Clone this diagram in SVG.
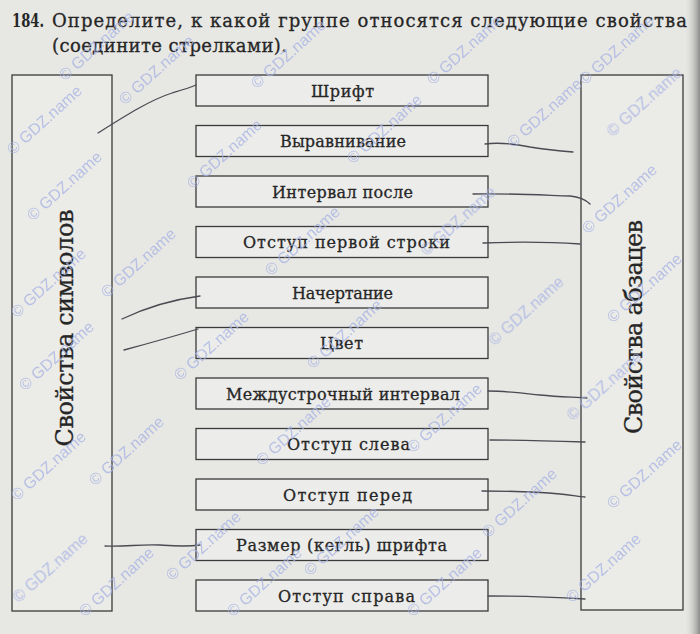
<svg xmlns="http://www.w3.org/2000/svg" width="700" height="634" viewBox="0 0 700 634">
<defs>
<linearGradient id="edge" x1="0" y1="0" x2="1" y2="0">
<stop offset="0" stop-color="#e6e6e3" stop-opacity="0"/>
<stop offset="1" stop-color="#8a8a88"/>
</linearGradient>
<style>
.bg{fill:#e7e7e4}
.box{fill:#ececea;stroke:#3a3a3a;stroke-width:1.3}
.big{fill:#ebebe8;stroke:#3a3a3a;stroke-width:1.3}
.lbl{font-family:"DejaVu Serif","Liberation Serif",serif;font-size:16px;fill:#262626;stroke:#262626;stroke-width:0.3}
.ttl{font-family:"DejaVu Serif","Liberation Serif",serif;font-size:18px;fill:#262626;stroke:#262626;stroke-width:0.3}
.num{font-family:"DejaVu Serif","Liberation Serif",serif;font-size:18px;font-weight:bold;fill:#262626}
.rot{font-family:"DejaVu Serif","Liberation Serif",serif;font-size:24px;fill:#262626;stroke:#262626;stroke-width:0.3}
.con{fill:none;stroke:#4a4a52;stroke-width:1.3;stroke-linecap:round;stroke-linejoin:round}
.wm{font-family:"Liberation Sans",Arial,sans-serif;font-size:16px;fill:#a6b2e3;opacity:0.75}
</style>
</defs>
<rect class="bg" x="0" y="0" width="700" height="634"/>
<rect x="684" y="0" width="16" height="634" fill="url(#edge)"/>

<g id="title">
<text class="num" x="12" y="27" textLength="32" lengthAdjust="spacingAndGlyphs">184.</text>
<text class="ttl" x="52" y="27" textLength="635" lengthAdjust="spacing">Определите, к какой группе относятся следующие свойства</text>
<text class="ttl" x="52" y="52" textLength="235" lengthAdjust="spacing">(соедините стрелками).</text>
</g>

<g id="group-symbols">
<rect class="big" x="12" y="75" width="100" height="536"/>
<text class="rot" transform="translate(73,328) rotate(-90)" text-anchor="middle" textLength="237" lengthAdjust="spacing">Свойства символов</text>
</g>

<g id="group-paragraphs">
<rect class="big" x="581" y="75" width="102" height="535"/>
<text class="rot" transform="translate(642,327) rotate(-90)" text-anchor="middle" textLength="214" lengthAdjust="spacing">Свойства абзацев</text>
</g>

<g id="n1"><rect class="box" x="196" y="75" width="292" height="31"/><text class="lbl" x="311" y="96.5" textLength="63" lengthAdjust="spacing">Шрифт</text></g>
<g id="n2"><rect class="box" x="196" y="125.5" width="292" height="31"/><text class="lbl" x="280" y="147" textLength="126" lengthAdjust="spacing">Выравнивание</text></g>
<g id="n3"><rect class="box" x="196" y="176" width="292" height="31"/><text class="lbl" x="272" y="197.5" textLength="141" lengthAdjust="spacing">Интервал после</text></g>
<g id="n4"><rect class="box" x="196" y="226.5" width="292" height="31"/><text class="lbl" x="243" y="248" textLength="207" lengthAdjust="spacing">Отступ первой строки</text></g>
<g id="n5"><rect class="box" x="196" y="277" width="292" height="31"/><text class="lbl" x="292" y="298.5" textLength="101" lengthAdjust="spacing">Начертание</text></g>
<g id="n6"><rect class="box" x="196" y="327.5" width="292" height="31"/><text class="lbl" x="320" y="349" textLength="43" lengthAdjust="spacing">Цвет</text></g>
<g id="n7"><rect class="box" x="196" y="378" width="292" height="31"/><text class="lbl" x="226" y="399.5" textLength="234" lengthAdjust="spacing">Междустрочный интервал</text></g>
<g id="n8"><rect class="box" x="196" y="428.5" width="292" height="31"/><text class="lbl" x="287" y="450" textLength="123" lengthAdjust="spacing">Отступ слева</text></g>
<g id="n9"><rect class="box" x="196" y="479" width="292" height="31"/><text class="lbl" x="283" y="500.5" textLength="129" lengthAdjust="spacing">Отступ перед</text></g>
<g id="n10"><rect class="box" x="196" y="529.5" width="292" height="31"/><text class="lbl" x="236" y="551" textLength="211" lengthAdjust="spacing">Размер (кегль) шрифта</text></g>
<g id="n11"><rect class="box" x="196" y="580" width="292" height="31"/><text class="lbl" x="278" y="601.5" textLength="137" lengthAdjust="spacing">Отступ справа</text></g>

<g id="connectors">
<path class="con" d="M98,133 C125,116 150,100 172,93 C182,90 189,88 196,85"/>
<path class="con" d="M122,319 C145,308 170,300 200,296"/>
<path class="con" d="M124,350 C150,343 175,336 198,329"/>
<path class="con" d="M105,546 C125,547 140,544 160,545 C175,546 186,547 200,545"/>
<path class="con" d="M485,144 C500,142 515,144 530,147 C548,150 560,151 573,152"/>
<path class="con" d="M473,194 C500,193 540,195 570,196 C580,197 586,200 590,204"/>
<path class="con" d="M483,243 C510,242 550,242 580,244"/>
<path class="con" d="M488,391 C505,391 520,393 540,395 C560,397 575,397 587,398"/>
<path class="con" d="M490,440 C520,440 555,441 585,442"/>
<path class="con" d="M482,491 C510,491 540,492 560,494 C572,495 580,497 585,497"/>
<path class="con" d="M488,596 C515,596 550,597 585,599"/>
</g>

<g id="watermarks" class="wm" text-anchor="middle">
<text transform="translate(48,124) rotate(-42)">© GDZ.name</text>
<text transform="translate(100,50) rotate(-42)">© GDZ.name</text>
<text transform="translate(160,74) rotate(-42)">© GDZ.name</text>
<text transform="translate(292,58) rotate(-42)">© GDZ.name</text>
<text transform="translate(468,54) rotate(-42)">© GDZ.name</text>
<text transform="translate(620,54) rotate(-42)">© GDZ.name</text>
<text transform="translate(648,106) rotate(-42)">© GDZ.name</text>
<text transform="translate(68,190) rotate(-42)">© GDZ.name</text>
<text transform="translate(228,158) rotate(-42)">© GDZ.name</text>
<text transform="translate(388,133) rotate(-42)">© GDZ.name</text>
<text transform="translate(548,117) rotate(-42)">© GDZ.name</text>
<text transform="translate(52,287) rotate(-42)">© GDZ.name</text>
<text transform="translate(142,267) rotate(-42)">© GDZ.name</text>
<text transform="translate(306,245) rotate(-42)">© GDZ.name</text>
<text transform="translate(462,225) rotate(-42)">© GDZ.name</text>
<text transform="translate(623,203) rotate(-42)">© GDZ.name</text>
<text transform="translate(648,292) rotate(-42)">© GDZ.name</text>
<text transform="translate(60,360) rotate(-42)">© GDZ.name</text>
<text transform="translate(215,350) rotate(-42)">© GDZ.name</text>
<text transform="translate(348,338) rotate(-42)">© GDZ.name</text>
<text transform="translate(530,315) rotate(-42)">© GDZ.name</text>
<text transform="translate(52,470) rotate(-42)">© GDZ.name</text>
<text transform="translate(130,455) rotate(-42)">© GDZ.name</text>
<text transform="translate(297,435) rotate(-42)">© GDZ.name</text>
<text transform="translate(448,422) rotate(-42)">© GDZ.name</text>
<text transform="translate(608,390) rotate(-42)">© GDZ.name</text>
<text transform="translate(345,545) rotate(-42)">© GDZ.name</text>
<text transform="translate(523,507) rotate(-42)">© GDZ.name</text>
<text transform="translate(648,478) rotate(-42)">© GDZ.name</text>
<text transform="translate(54,572) rotate(-42)">© GDZ.name</text>
<text transform="translate(207,550) rotate(-42)">© GDZ.name</text>
<text transform="translate(448,586) rotate(-42)">© GDZ.name</text>
<text transform="translate(607,572) rotate(-42)">© GDZ.name</text>
<text transform="translate(120,586) rotate(-42)">© GDZ.name</text>
<text transform="translate(268,586) rotate(-42)">© GDZ.name</text>
</g>
</svg>
